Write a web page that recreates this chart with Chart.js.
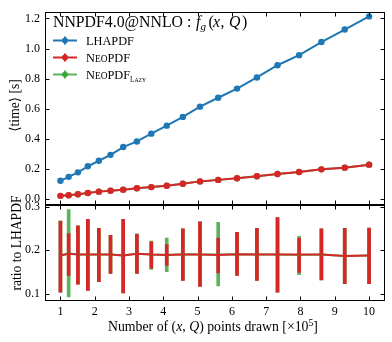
<!DOCTYPE html>
<html>
<head>
<meta charset="utf-8">
<script src="https://cdn.jsdelivr.net/npm/chart.js@4.4.1/dist/chart.umd.min.js"></script>
<style>
  html, body { margin: 0; padding: 0; background: #fff; }
  #wrap { position: relative; width: 392px; height: 342px; }
</style>
</head>
<body>
<div id="wrap"><canvas id="c" width="392" height="342"></canvas></div>
<script>
// number of (x, Q) points, in units of 1e5
const points = [1, 1.24, 1.51, 1.80, 2.12, 2.46, 2.83, 3.23, 3.65, 4.10, 4.57, 5.07, 5.60, 6.15, 6.73, 7.33, 7.96, 8.61, 9.29, 10]
const xTicks = [1, 2, 3, 4, 5, 6, 7, 8, 9, 10]

// <time> [s]
const lhapdfTime = [0.122, 0.148, 0.178, 0.218, 0.255, 0.294, 0.346, 0.383, 0.435, 0.488, 0.546, 0.614, 0.673, 0.734, 0.808, 0.889, 0.956, 1.043, 1.126, 1.213]
const neopdfTime = [0.022, 0.026, 0.033, 0.041, 0.050, 0.056, 0.063, 0.072, 0.080, 0.089, 0.102, 0.118, 0.128, 0.139, 0.152, 0.167, 0.180, 0.198, 0.209, 0.229]
const lazyTime   = [0.022, 0.026, 0.033, 0.041, 0.050, 0.056, 0.063, 0.072, 0.080, 0.089, 0.102, 0.118, 0.128, 0.139, 0.152, 0.167, 0.180, 0.198, 0.209, 0.229]

// ratio to LHAPDF with error bars
const neopdfRatio = [0.188, 0.192, 0.190, 0.190, 0.190, 0.190, 0.188, 0.192, 0.190, 0.189, 0.190, 0.190, 0.189, 0.191, 0.190, 0.190, 0.190, 0.190, 0.187, 0.188]
const neopdfLo    = [0.104, 0.142, 0.122, 0.108, 0.128, 0.147, 0.102, 0.147, 0.159, 0.165, 0.131, 0.117, 0.148, 0.142, 0.131, 0.104, 0.149, 0.132, 0.123, 0.123]
const neopdfHi    = [0.267, 0.238, 0.256, 0.271, 0.250, 0.234, 0.271, 0.237, 0.219, 0.213, 0.249, 0.265, 0.228, 0.241, 0.250, 0.275, 0.228, 0.249, 0.250, 0.251]
const lazyRatio   = [0.188, 0.193, 0.190, 0.190, 0.190, 0.190, 0.188, 0.192, 0.190, 0.189, 0.191, 0.190, 0.190, 0.191, 0.190, 0.190, 0.189, 0.190, 0.187, 0.188]
const lazyLo      = [0.104, 0.093, 0.122, 0.108, 0.128, 0.147, 0.102, 0.147, 0.156, 0.151, 0.131, 0.117, 0.118, 0.142, 0.131, 0.104, 0.144, 0.132, 0.123, 0.123]
const lazyHi      = [0.267, 0.293, 0.256, 0.271, 0.250, 0.234, 0.271, 0.237, 0.221, 0.228, 0.249, 0.265, 0.264, 0.241, 0.250, 0.275, 0.232, 0.249, 0.250, 0.251]

const BLUE = "#1f77b4"
const RED = "#d62728"
const GREEN = "rgba(44,160,44,0.78)"
const SERIF = "'Liberation Serif', 'DejaVu Serif', serif"

const xy = (ys) => points.map((x, i) => ({ x, y: ys[i] }))
const span = (lo, hi) => points.map((x, i) => ({ x, y: [lo[i], hi[i]] }))

// text runs: {t, it, rel, dy}; sizes relative to a base size
const fontOf = (r, size) => `${r.it ? "italic " : ""}${(size * (r.rel || 1)).toFixed(2)}px ${SERIF}`
function runsWidth(ctx, runs, size) {
  let w = 0
  for (const r of runs) { ctx.font = fontOf(r, size); w += ctx.measureText(r.t).width }
  return w
}
// base size that makes the runs span a given width
const fitSize = (ctx, runs, width) => 100 * width / runsWidth(ctx, runs, 100)
function drawRuns(ctx, x, y, runs, size) {
  let cx = x
  for (const r of runs) {
    ctx.font = fontOf(r, size)
    const px = r.at !== undefined ? r.at : cx
    ctx.fillText(r.t, px, y + (r.dy || 0) * size)
    cx = px + ctx.measureText(r.t).width
  }
}

const decor = {
  id: "decor",
  afterDraw(chart) {
    const { ctx, chartArea: a, scales: { x, y, y2 } } = chart
    ctx.save()
    ctx.strokeStyle = "#000"
    ctx.lineWidth = 1
    const L = Math.round(a.left) + 0.5, R = Math.round(a.right) - 0.5
    for (const s of [y, y2]) {
      const T = Math.round(s.top) + 0.5, B = Math.round(s.bottom) - 0.5
      ctx.strokeRect(L, T, R - L, B - T)
      ctx.beginPath()
      for (const v of xTicks) {
        const px = Math.round(x.getPixelForValue(v)) + 0.5
        ctx.moveTo(px, B); ctx.lineTo(px, B - 4)
        ctx.moveTo(px, T); ctx.lineTo(px, T + 4)
      }
      for (const t of s.ticks) {
        const py = Math.round(s.getPixelForValue(t.value)) + 0.5
        ctx.moveTo(L, py); ctx.lineTo(L + 4, py)
        ctx.moveTo(R, py); ctx.lineTo(R - 4, py)
      }
      ctx.stroke()
    }

    ctx.fillStyle = "#000"
    ctx.textBaseline = "alphabetic"
    ctx.textAlign = "left"

    // panel title
    const hs = fitSize(ctx, [{ t: "NNPDF4.0@NNLO" }], 130)
    drawRuns(ctx, 53, 27, [
      { t: "NNPDF4.0@NNLO" },
      { t: ":", at: 187 },
      { t: "f", it: true, at: 196 },
      { t: "g", it: true, rel: 0.7, dy: 0.2 },
      { t: "(", at: 208.5 },
      { t: "x", it: true, at: 213 },
      { t: ",", at: 220.5 },
      { t: "Q", it: true, at: 229 },
      { t: ")", at: 242 }
    ], hs)

    // legend
    const ls = fitSize(ctx, [{ t: "LHAPDF" }], 48)
    const neo = [{ t: "N" }, { t: "EO", rel: 0.76 }, { t: "PDF" }]
    const rows = [
      { c: BLUE, y: 40.5, runs: [{ t: "LHAPDF" }] },
      { c: RED, y: 57.5, runs: neo },
      { c: GREEN, y: 74.5, runs: neo.concat([{ t: "L", rel: 0.58, dy: 0.25 }, { t: "AZY", rel: 0.46, dy: 0.25 }]) }
    ]
    for (const r of rows) {
      ctx.strokeStyle = r.c
      ctx.fillStyle = r.c
      ctx.lineWidth = 2
      ctx.beginPath()
      ctx.moveTo(53, r.y); ctx.lineTo(77, r.y)
      ctx.moveTo(65, r.y - 4); ctx.lineTo(65, r.y + 4)
      ctx.stroke()
      ctx.beginPath()
      ctx.arc(65, r.y, 3, 0, Math.PI * 2)
      ctx.fill()
      ctx.fillStyle = "#000"
      drawRuns(ctx, 86, r.y + 4, r.runs, ls)
    }

    // x axis title
    const xt = [
      { t: "Number of (" },
      { t: "x", it: true },
      { t: ", " },
      { t: "Q", it: true },
      { t: ") points drawn [×10" },
      { t: "5", rel: 0.7, dy: -0.38 },
      { t: "]" }
    ]
    const xs = fitSize(ctx, xt, 210)
    drawRuns(ctx, 108, 331, xt, xs)

    // y axis titles, rotated, same size for both
    const ys = fitSize(ctx, [{ t: "ratio to LHAPDF" }], 95)
    const ylab = (text, cx, cy) => {
      ctx.save()
      ctx.translate(cx, cy)
      ctx.rotate(-Math.PI / 2)
      ctx.textAlign = "center"
      ctx.font = fontOf({}, ys)
      ctx.fillText(text, 0, 0)
      ctx.restore()
    }
    ylab("⟨time⟩ [s]", 18.5, 105.5)
    ylab("ratio to LHAPDF", 20.5, 243)
    ctx.restore()
  }
}

const tickFont = { family: SERIF, size: 12 }
const dot = { borderWidth: 2, pointRadius: 3.2, pointBorderWidth: 0 }

new Chart(document.getElementById("c"), {
  type: "line",
  data: {
    datasets: [
      { label: "NeoPDF_Lazy", data: xy(lazyTime), yAxisID: "y", borderColor: GREEN, backgroundColor: GREEN, ...dot, order: 5 },
      { label: "LHAPDF", data: xy(lhapdfTime), yAxisID: "y", borderColor: BLUE, backgroundColor: BLUE, ...dot, order: 1 },
      { label: "NeoPDF", data: xy(neopdfTime), yAxisID: "y", borderColor: RED, backgroundColor: RED, ...dot, order: 0 },
      { type: "bar", label: "NeoPDF_Lazy err", data: span(lazyLo, lazyHi), yAxisID: "y2", backgroundColor: GREEN, barThickness: 3, grouped: false, borderWidth: 0, order: 4 },
      { type: "bar", label: "NeoPDF err", data: span(neopdfLo, neopdfHi), yAxisID: "y2", backgroundColor: RED, barThickness: 3, grouped: false, borderWidth: 0, order: 3 },
      { label: "NeoPDF_Lazy ratio", data: xy(lazyRatio), yAxisID: "y2", borderColor: GREEN, borderWidth: 2, pointRadius: 0, order: 2 },
      { label: "NeoPDF ratio", data: xy(neopdfRatio), yAxisID: "y2", borderColor: RED, borderWidth: 2, pointRadius: 0, order: 0 }
    ]
  },
  options: {
    responsive: false,
    animation: false,
    layout: { padding: { top: 7, right: 7.5, left: 0, bottom: 0 } },
    plugins: { legend: { display: false }, tooltip: { enabled: false } },
    scales: {
      x: {
        type: "linear", min: 0.55, max: 10.45, offset: false,
        grid: { display: false, drawTicks: false }, border: { display: false },
        ticks: { stepSize: 1, includeBounds: false, autoSkip: false, maxRotation: 0, padding: 4, color: "#000", font: tickFont },
        afterFit: (s) => { s.height = 41 }
      },
      y2: {
        type: "linear", position: "left", stack: "panels", stackWeight: 1,
        min: 0.0835, max: 0.3044,
        grid: { display: false, drawTicks: false }, border: { display: false },
        ticks: { stepSize: 0.1, includeBounds: false, padding: 5, color: "#000", font: tickFont, callback: (v) => v.toFixed(1) },
        afterFit: (s) => { s.width = 45 }
      },
      y: {
        type: "linear", position: "left", stack: "panels", stackWeight: 2,
        min: -0.037, max: 1.241,
        grid: { display: false, drawTicks: false }, border: { display: false },
        ticks: { stepSize: 0.2, includeBounds: false, padding: 5, color: "#000", font: tickFont, callback: (v) => v.toFixed(1) },
        afterFit: (s) => { s.width = 45 }
      }
    }
  },
  plugins: [decor]
})
</script>
</body>
</html>
